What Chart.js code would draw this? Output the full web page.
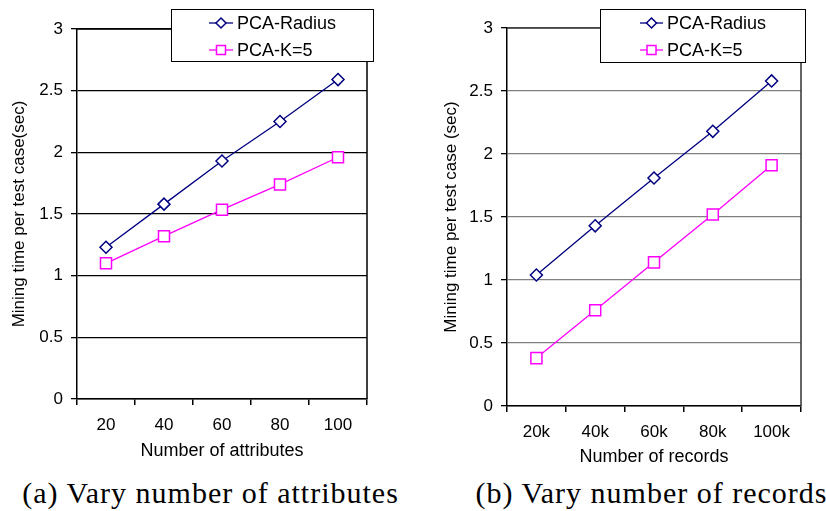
<!DOCTYPE html>
<html>
<head>
<meta charset="utf-8">
<script src="https://cdn.jsdelivr.net/npm/chart.js@4/dist/chart.umd.min.js"></script>
<style>
  body { margin: 0; background: #fff; width: 826px; height: 511px; position: relative; overflow: hidden; }
  .panel { position: absolute; top: 0; width: 413px; height: 470px; }
  .caption { position: absolute; top: 478px; width: 413px; text-align: center; white-space: nowrap;
    font-family: "Liberation Serif", serif; font-size: 30px; line-height: 30px; letter-spacing: 1px; color: #000; }
</style>
</head>
<body>
<div class="panel" style="left:0"><canvas id="attrChart" width="413" height="470"></canvas></div>
<div class="panel" style="left:413px"><canvas id="recChart" width="413" height="470"></canvas></div>
<div class="caption" style="left:4px">(a) Vary number of attributes</div>
<div class="caption" style="left:445px">(b) Vary number of records</div>
<script>
const seriesNames = ["PCA-Radius", "PCA-K=5"];

const attrLabels = ["20", "40", "60", "80", "100"];
const attrRadius = [1.23, 1.58, 1.93, 2.25, 2.59];
const attrK5 = [1.10, 1.32, 1.535, 1.74, 1.96];

const recLabels = ["20k", "40k", "60k", "80k", "100k"];
const recRadius = [1.04, 1.43, 1.81, 2.18, 2.58];
const recK5 = [0.38, 0.76, 1.14, 1.52, 1.91];

const yMin = 0, yMax = 3, yStep = 0.5;

const NAVY = "#000080";
const MAGENTA = "#ff00ff";
const FONT = "'Liberation Sans', Arial, sans-serif";

function marker(ctx, style, x, y, r, color) {
  ctx.save();
  ctx.beginPath();
  if (style === "rectRot") {
    ctx.moveTo(x, y - r);
    ctx.lineTo(x + r, y);
    ctx.lineTo(x, y + r);
    ctx.lineTo(x - r, y);
    ctx.closePath();
  } else {
    ctx.rect(x - r, y - r, 2 * r, 2 * r);
  }
  ctx.fillStyle = "#fff";
  ctx.fill();
  ctx.lineWidth = 1.5;
  ctx.strokeStyle = color;
  ctx.stroke();
  ctx.restore();
}

// frame around plot area + boxed legend
const framePlugin = {
  id: "frame",
  afterDatasetsDraw(chart, args, opts) {
    const { ctx, chartArea: a } = chart;
    ctx.save();
    ctx.strokeStyle = opts.color;
    ctx.lineWidth = 1.5;
    ctx.beginPath();
    ctx.moveTo(a.left, a.top);
    ctx.lineTo(a.right, a.top);
    ctx.lineTo(a.right, a.bottom);
    ctx.stroke();
    ctx.restore();
  },
  afterDraw(chart, args, opts) {
    const { ctx } = chart;
    const b = opts.box;
    ctx.save();
    ctx.fillStyle = "#fff";
    ctx.fillRect(b.x, b.y, b.w, b.h);
    ctx.strokeStyle = "#000";
    ctx.lineWidth = 1;
    ctx.strokeRect(b.x + 0.5, b.y + 0.5, b.w, b.h);
    ctx.font = "18px " + FONT;
    ctx.textBaseline = "middle";
    ctx.textAlign = "left";
    chart.data.datasets.forEach((ds, i) => {
      const y = opts.rows[i];
      ctx.strokeStyle = ds.borderColor;
      ctx.lineWidth = 1.3;
      ctx.beginPath();
      ctx.moveTo(opts.lineX[0], y);
      ctx.lineTo(opts.lineX[1], y);
      ctx.stroke();
      const cx = (opts.lineX[0] + opts.lineX[1]) / 2;
      marker(ctx, ds.pointStyle, cx, y, ds.pointStyle === "rectRot" ? 5 : 4.5, ds.borderColor);
      ctx.fillStyle = "#000";
      ctx.fillText(ds.label, opts.textX, y + 1);
    });
    ctx.restore();
  }
};

function makeChart(id, labels, radius, k5, layout) {
  const canvas = document.getElementById(id);
  if (!canvas) return null;
  const ctx = canvas.getContext("2d");

  return new Chart(ctx, {
    type: "line",
    data: {
      labels: labels,
      datasets: [{
        label: seriesNames[0],
        data: radius,
        borderColor: NAVY,
        backgroundColor: "#fff",
        borderWidth: 1.3,
        pointStyle: "rectRot",
        pointRadius: 6,
        pointBorderWidth: 1.5,
        pointBackgroundColor: "#fff",
        tension: 0
      }, {
        label: seriesNames[1],
        data: k5,
        borderColor: MAGENTA,
        backgroundColor: "#fff",
        borderWidth: 1.3,
        pointStyle: "rect",
        pointRadius: 7.8,
        pointBorderWidth: 1.5,
        pointBackgroundColor: "#fff",
        tension: 0
      }]
    },
    options: {
      responsive: false,
      animation: false,
      events: [],
      layout: { padding: { left: 0, top: layout.top, right: layout.right, bottom: 0 } },
      plugins: {
        legend: { display: false },
        tooltip: { enabled: false },
        frame: { color: layout.frameColor, box: layout.box, rows: layout.rows, lineX: layout.lineX, textX: layout.textX }
      },
      scales: {
        x: {
          offset: true,
          grid: { offset: true, drawOnChartArea: false, drawTicks: true, tickLength: 6, color: "#000", lineWidth: 1.5 },
          border: { display: true, color: "#000", width: 1.5 },
          ticks: { color: "#000", font: { family: FONT, size: 17 }, padding: 10, maxRotation: 0 },
          title: { display: true, text: layout.xTitle, color: "#000", font: { family: FONT, size: 18 }, padding: { top: 0, bottom: layout.xTitlePad } },
          afterFit(scale) { scale.height = layout.xHeight; }
        },
        y: {
          min: yMin,
          max: yMax,
          grid: { color: layout.gridColor, lineWidth: 1.3, tickColor: "#000", tickLength: 6 },
          border: { display: true, color: "#000", width: 1.5 },
          ticks: {
            stepSize: yStep, color: "#000", font: { family: FONT, size: 17 }, padding: 8,
            callback: v => String(Math.round(v * 10) / 10)
          },
          title: { display: true, text: layout.yTitle, color: "#000", font: { family: FONT, size: 17 }, padding: { top: layout.yTitlePad, bottom: 0 } },
          afterFit(scale) { scale.width = layout.yWidth; }
        }
      }
    },
    plugins: [framePlugin]
  });
}

makeChart("attrChart", attrLabels, attrRadius, attrK5, {
  top: 29, right: 46, xHeight: 71, yWidth: 77,
  xTitle: "Number of attributes", xTitlePad: 8,
  yTitle: "Mining time per test case(sec)", yTitlePad: 9,
  gridColor: "#000", frameColor: "#000",
  box: { x: 171, y: 9, w: 202, h: 52 }, rows: [23, 50], lineX: [209, 233], textX: 237
});

makeChart("recChart", recLabels, recRadius, recK5, {
  top: 28, right: 25, xHeight: 64, yWidth: 94,
  xTitle: "Number of records", xTitlePad: 2,
  yTitle: "Mining time per test case (sec)", yTitlePad: 28,
  gridColor: "#808080", frameColor: "#333",
  box: { x: 187, y: 9, w: 205, h: 53 }, rows: [23, 50], lineX: [227, 250], textX: 254
});
</script>
</body>
</html>
